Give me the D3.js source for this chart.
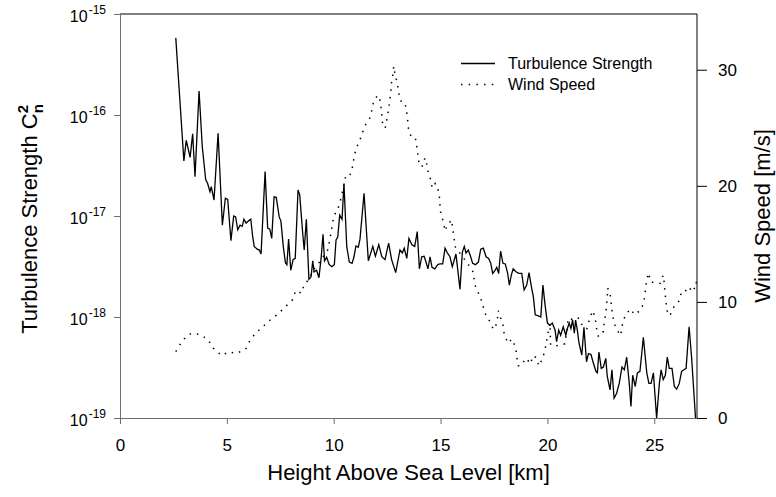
<!DOCTYPE html>
<html>
<head>
    <title>Turbulence Strength and Wind Speed</title>
    <script src="https://cdnjs.cloudflare.com/ajax/libs/d3/7.8.5/d3.min.js"></script>
    <style>
        body { margin: 0; background: #fff; }
        svg text { font-family: "Liberation Sans", Arial, sans-serif; fill: #000; }
    </style>
</head>

<body>
    <div id="chart"></div>

    <script>
        // turbulence profile, height [km] / Cn2 [m^-2/3]
        let heightT = [2.61, 2.99, 3.10, 3.28, 3.40, 3.51, 3.70, 3.85, 4.01, 4.10, 4.21, 4.27, 4.40, 4.59, 4.79, 4.93, 5.04,
            5.19, 5.32, 5.41, 5.51, 5.62, 5.72, 5.80, 5.90, 6.00, 6.12, 6.21, 6.28, 6.42, 6.52, 6.60, 6.79, 6.91, 7.01, 7.10,
            7.21, 7.31, 7.45, 7.53, 7.64, 7.74, 7.81, 7.89, 7.99, 8.10, 8.20, 8.33, 8.41, 8.55, 8.62, 8.72, 8.84, 8.94, 9.02,
            9.08, 9.20, 9.31, 9.41, 9.50, 9.57, 9.67, 9.79, 9.91, 10.03, 10.11, 10.19, 10.28, 10.39, 10.48, 10.61, 10.73,
            10.86, 10.95, 11.04, 11.15, 11.23, 11.42, 11.62, 11.83, 11.95, 12.11, 12.25, 12.40, 12.57, 12.71, 12.90, 13.10,
            13.21, 13.30, 13.42, 13.52, 13.66, 13.79, 13.91, 14.01, 14.12, 14.23, 14.32, 14.41, 14.51, 14.60, 14.73, 14.87,
            14.97, 15.10, 15.21, 15.32, 15.44, 15.55, 15.72, 15.91, 16.02, 16.11, 16.19, 16.30, 16.41, 16.50, 16.63, 16.77,
            16.88, 17.00, 17.13, 17.25, 17.35, 17.44, 17.55, 17.63, 17.72, 17.81, 17.92, 18.03, 18.14, 18.22, 18.31, 18.40,
            18.53, 18.66, 18.80, 18.91, 19.03, 19.14, 19.25, 19.34, 19.43, 19.55, 19.69, 19.79, 19.89, 20.00, 20.12, 20.23,
            20.36, 20.43, 20.53, 20.62, 20.74, 20.86, 20.93, 21.02, 21.10, 21.18, 21.26, 21.32, 21.40, 21.48, 21.61, 21.71,
            21.83, 21.92, 22.04, 22.15, 22.27, 22.34, 22.41, 22.52, 22.62, 22.73, 22.80, 22.93, 23.02, 23.12, 23.24, 23.36,
            23.49, 23.60, 23.71, 23.83, 23.91, 23.99, 24.11, 24.21, 24.33, 24.49, 24.65, 24.75, 24.85, 24.96, 25.11, 25.24,
            25.32, 25.42, 25.52, 25.61, 25.70, 25.83, 25.94, 26.05, 26.17, 26.28, 26.49, 26.63, 26.75, 26.93, 27.00]
        let cn2 = [5.8e-16, 3.5e-17, 5.6e-17, 3.8e-17, 6.5e-17, 2.45e-17, 1.73e-16, 4.85e-17, 2.3e-17, 2.1e-17, 1.74e-17, 1.95e-17, 1.44e-17, 6.6e-17, 8.1e-18, 1.5e-17, 1.46e-17,
            5.7e-18, 1.0e-17, 9.8e-18, 7.3e-18, 8.1e-18, 7.9e-18, 9.3e-18, 8.5e-18, 8.9e-18, 9.3e-18, 6.2e-18, 5.0e-18, 4.7e-18, 4.6e-18, 4.2e-18, 2.75e-17, 7.6e-18, 7.4e-18, 6.0e-18,
            1.55e-17, 1.53e-17, 9.8e-18, 8.9e-18, 5.0e-18, 3.45e-18, 3.3e-18, 5.9e-18, 2.9e-18, 3.7e-18, 3.8e-18, 1.81e-17, 1.62e-17, 6.7e-18, 4.6e-18, 9.3e-18, 2.36e-18, 2.5e-18, 3.6e-18,
            2.8e-18, 2.9e-18, 2.45e-18, 3.8e-18, 6.6e-18, 3.6e-18, 3.9e-18, 3.3e-18, 3.15e-18, 3.3e-18, 5.8e-18, 6.2e-18, 1.02e-17, 9.3e-18, 2.1e-17, 5.0e-18, 3.5e-18,
            3.4e-18, 3.95e-18, 5.05e-18, 4.9e-18, 5.9e-18, 1.68e-17, 3.6e-18, 5.0e-18, 4.0e-18, 5.2e-18, 3.95e-18, 3.7e-18, 5.4e-18, 3.7e-18, 2.75e-18, 4.6e-18,
            4.3e-18, 4.8e-18, 3.8e-18, 6.0e-18, 5.2e-18, 5.0e-18, 7.0e-18, 3.0e-18, 3.95e-18, 4.0e-18, 3.5e-18, 3.0e-18, 3.95e-18, 3.1e-18, 3.0e-18, 3.3e-18,
            3.35e-18, 3.35e-18, 4.8e-18, 4.3e-18, 3.95e-18, 3.15e-18, 4.2e-18, 1.88e-18, 4.4e-18, 5.0e-18, 4.3e-18, 4.6e-18, 3.95e-18, 3.4e-18, 3.3e-18, 3.5e-18,
            4.7e-18, 4.8e-18, 3.95e-18, 3.8e-18, 3.4e-18, 2.7e-18, 2.9e-18, 3.1e-18, 2.7e-18, 4.5e-18, 3.4e-18, 3.35e-18, 2.7e-18, 2.07e-18, 2.6e-18, 3.0e-18,
            2.8e-18, 2.7e-18, 2.7e-18, 1.85e-18, 2.07e-18, 2.75e-18, 2.0e-18, 1.6e-18, 1.05e-18, 1.03e-18, 1.0e-18, 2.07e-18, 1.32e-18, 8.7e-19, 8.3e-19, 8.7e-19,
            7.4e-19, 5.7e-19, 7.4e-19, 6.6e-19, 8.0e-19, 6.6e-19, 7.6e-19, 8.7e-19, 7.7e-19, 9.3e-19, 6.9e-19, 9.3e-19, 7.4e-19, 5.5e-19, 4.2e-19, 7.9e-19,
            3.6e-19, 4.35e-19, 4.25e-19, 3.5e-19, 2.9e-19, 2.8e-19, 4.5e-19, 3.1e-19, 3.2e-19, 3.9e-19, 2.6e-19, 1.9e-19, 3.0e-19, 1.57e-19, 1.76e-19, 2.2e-19,
            3.2e-19, 3.0e-19, 4.0e-19, 2.2e-19, 1.3e-19, 2.65e-19, 2.05e-19, 2.8e-19, 2.9e-19, 6.3e-19, 2.8e-19, 2.2e-19, 2.2e-19, 2.8e-19, 1.0e-19, 2.2e-19,
            3.0e-19, 2.4e-19, 2.65e-19, 4.0e-19, 3.1e-19, 3.1e-19, 2.05e-19, 1.93e-19, 2.2e-19, 2.9e-19, 3.1e-19, 8.0e-19, 3.9e-19, 1.0e-19, 0.8e-19]

        // wind profile, height [km] / speed [m/s]
        let heightW = [2.61, 2.85, 3.12, 3.35, 3.70, 4.10, 4.37, 4.76, 5.07, 5.46, 5.88, 6.08, 6.36, 6.65, 7.00, 7.35, 7.70,
            8.08, 8.22, 8.50, 8.61, 8.84, 9.05, 9.28, 9.72, 9.80, 9.87, 9.94, 10.00, 10.17, 10.30, 10.40, 10.57, 10.76, 10.89,
            10.95, 11.04, 11.20, 11.35, 11.50, 11.68, 11.79, 11.87, 12.06, 12.15, 12.21, 12.26, 12.29, 12.41, 12.49, 12.56,
            12.62, 12.67, 12.70, 12.76, 12.81, 12.87, 12.98, 13.04, 13.14, 13.26, 13.35, 13.42, 13.47, 13.51, 13.70, 13.84,
            13.90, 13.95, 14.01, 14.15, 14.27, 14.33, 14.41, 14.54, 14.61, 14.75, 14.85, 14.94, 14.97, 15.01, 15.13, 15.21,
            15.30, 15.52, 15.57, 15.63, 15.68, 16.19, 16.50, 16.57, 16.65, 16.85, 16.97, 17.09, 17.28, 17.47, 17.55, 17.66,
            17.70, 17.83, 17.94, 17.98, 18.17, 18.33, 18.52, 18.56, 18.64, 18.75, 19.00, 19.22, 19.30, 19.47, 19.60, 19.79,
            19.90, 19.97, 20.04, 20.12, 20.15, 20.36, 20.67, 20.82, 20.98, 21.14, 21.37, 21.53, 21.66, 21.85, 21.97, 22.12,
            22.24, 22.29, 22.39, 22.62, 22.66, 22.73, 22.77, 22.80, 22.82, 22.93, 22.98, 23.02, 23.10, 23.21, 23.43, 23.49,
            23.60, 23.86, 24.10, 24.41, 24.53, 24.58, 24.63, 24.72, 24.85, 25.08, 25.27, 25.42, 25.47, 25.50, 25.55, 25.58,
            25.73, 25.89, 26.17, 26.28, 26.45, 26.62, 26.75, 26.90, 26.98]
        let windSpeed = [5.72, 6.44, 7.07, 7.30, 7.20, 6.80, 6.00, 5.37, 5.69, 5.58, 5.92, 6.67, 7.35, 7.8, 8.4, 8.9, 9.5,
            10.2, 10.97, 10.75, 11.47, 11.96, 12.76, 13.28, 14.48, 15.2, 15.9, 16.7, 17.4, 17.9, 18.6, 19.4, 20.9, 20.9, 21.7,
            22.4, 23.2, 23.8, 24.6, 25.3, 25.8, 26.55, 27.3, 27.8, 27.5, 26.75, 25.97, 25.26, 24.97, 25.75, 26.5,
            27.3, 28.0, 28.8, 29.5, 30.3, 29.6, 28.8, 28.0, 27.3, 27.3, 27.0, 26.3, 25.5, 24.7, 24.0, 24.0,
            23.25, 22.5, 21.7, 21.7, 22.4, 22.1, 21.3, 20.5, 19.8, 20.2, 19.9, 19.2, 18.4, 17.6, 16.9, 16.1,
            16.55, 17.07, 16.3, 15.5, 14.77, 13.5, 12.7, 11.96, 11.2, 10.5, 9.74, 9.0, 8.4, 7.65, 7.7, 8.5,
            9.25, 8.5, 7.9, 7.15, 6.44, 6.8, 6.06, 5.28, 4.5, 4.48, 5.15, 4.66, 5.34, 5.23, 4.48, 5.2,
            6.0, 6.7, 7.44, 8.16, 6.3, 6.2, 6.3, 6.4, 8.6, 8.5, 8.7, 8.5, 7.8, 7.7, 8.5, 9.25,
            8.6, 7.8, 7.0, 7.45, 8.2, 9.0, 9.7, 10.4, 11.2, 10.75, 10.0, 9.2, 8.4, 7.7, 7.1, 7.9,
            8.6, 9.4, 8.9, 9.4, 10.2, 10.9, 11.7, 12.5, 11.7, 11.7, 11.6, 12.3, 11.6, 10.8, 10.1, 9.3,
            8.8, 9.5, 10.1, 10.9, 11.0, 10.8, 11.4, 11.1, 11.8]

        let xTicks = [0, 5, 10, 15, 20, 25]
        let cn2Ticks = [1e-19, 1e-18, 1e-17, 1e-16, 1e-15]
        let cn2Exponents = ["-19", "-18", "-17", "-16", "-15"]
        let windTicks = [0, 10, 20, 30]
        let seriesNames = ["Turbulence Strength", "Wind Speed"]

        const W = 776, H = 497
        const MARGIN = { top: 14, right: 79, bottom: 79, left: 120 }
        const plotW = W - MARGIN.left - MARGIN.right
        const plotH = H - MARGIN.top - MARGIN.bottom
        const FONT = '"Liberation Sans", Arial, sans-serif'
        const AXIS_GREY = "#6e6e6e"

        let svg = d3.select("#chart").append("svg")
            .attr("width", W)
            .attr("height", H)

        let x = d3.scaleLinear().domain([0, 27]).range([MARGIN.left, MARGIN.left + plotW])
        let yC = d3.scaleLog().domain([1e-19, 1e-15]).range([MARGIN.top + plotH, MARGIN.top])
        let yW = d3.scaleLinear().domain([0, 34.8]).range([MARGIN.top + plotH, MARGIN.top])

        svg.append("clipPath").attr("id", "plotClip")
            .append("rect")
            .attr("x", MARGIN.left).attr("y", MARGIN.top)
            .attr("width", plotW).attr("height", plotH)

        // data lines
        let turbLine = d3.line().x((d, i) => x(heightT[i])).y(d => yC(d))
        let windLine = d3.line().x((d, i) => x(heightW[i])).y(d => yW(d))

        let plot = svg.append("g").attr("clip-path", "url(#plotClip)")

        plot.append("path").datum(windSpeed)
            .attr("d", windLine)
            .attr("fill", "none")
            .attr("stroke", "#000")
            .attr("stroke-width", 1.5)
            .attr("stroke-dasharray", "1.5,6")

        plot.append("path").datum(cn2)
            .attr("d", turbLine)
            .attr("fill", "none")
            .attr("stroke", "#000")
            .attr("stroke-width", 1.3)

        // frame top
        svg.append("line")
            .attr("x1", MARGIN.left).attr("x2", MARGIN.left + plotW)
            .attr("y1", MARGIN.top).attr("y2", MARGIN.top)
            .attr("stroke", "#000").attr("stroke-width", 1)

        // bottom axis
        let gx = svg.append("g").attr("transform", `translate(0,${MARGIN.top + plotH})`)
            .call(d3.axisBottom(x).tickValues(xTicks).tickSize(6).tickSizeOuter(0))
        gx.selectAll("path, line").attr("stroke", AXIS_GREY)
        gx.selectAll("text").attr("y", 21).style("font-family", FONT).style("font-size", "17px").attr("fill", "#000")

        // left axis
        let gl = svg.append("g").attr("transform", `translate(${MARGIN.left},0)`)
            .call(d3.axisLeft(yC).tickValues(cn2Ticks).tickSize(6).tickSizeOuter(0).tickFormat(""))
        gl.selectAll("path, line").attr("stroke", AXIS_GREY)
        gl.selectAll("text").remove()

        cn2Ticks.forEach(function (v, i) {
            let t = svg.append("text")
                .attr("x", MARGIN.left - 14)
                .attr("y", yC(v) + 7.5)
                .attr("text-anchor", "end")
                .style("font-size", "16px")
            t.append("tspan").text("10")
            t.append("tspan").attr("dx", 1).attr("dy", -8).style("font-size", "12px").text(cn2Exponents[i])
        })

        // right axis
        let gr = svg.append("g").attr("transform", `translate(${MARGIN.left + plotW},0)`)
            .call(d3.axisRight(yW).tickValues(windTicks).tickSize(10).tickPadding(11).tickSizeOuter(0))
        gr.selectAll("path, line").attr("stroke", "#000")
        gr.selectAll("text").style("font-family", FONT).style("font-size", "17px").attr("fill", "#000")
        gr.select(".domain").attr("d", `M0,${MARGIN.top}V${MARGIN.top + plotH}`)

        // axis titles
        svg.append("text")
            .attr("x", MARGIN.left + plotW / 2)
            .attr("y", 480)
            .attr("text-anchor", "middle")
            .style("font-size", "22px")
            .text("Height Above Sea Level [km]")

        let lt = svg.append("text")
            .attr("transform", "rotate(-90)")
            .attr("x", -219)
            .attr("y", 37)
            .attr("text-anchor", "middle")
            .style("font-size", "22px")
        lt.append("tspan").text("Turbulence Strength C")
        lt.append("tspan").attr("dy", 6).style("font-size", "15px").style("font-weight", "bold").text("n")
        lt.append("tspan").attr("dx", -9).attr("dy", -15).style("font-size", "15px").style("font-weight", "bold").text("2")

        svg.append("text")
            .attr("transform", "rotate(-90)")
            .attr("x", -(MARGIN.top + plotH / 2))
            .attr("y", 770)
            .attr("text-anchor", "middle")
            .style("font-size", "22px")
            .text("Wind Speed [m/s]")

        // legend
        let legend = svg.append("g")
        seriesNames.forEach(function (name, i) {
            let ly = 63.5 + i * 21
            legend.append("line")
                .attr("x1", 461).attr("x2", 495)
                .attr("y1", ly).attr("y2", ly)
                .attr("stroke", "#000")
                .attr("stroke-width", i === 0 ? 1.3 : 1.5)
                .attr("stroke-dasharray", i === 0 ? null : "1.5,6.2")
            legend.append("text")
                .attr("x", 508)
                .attr("y", ly + 5.5)
                .style("font-size", "16px")
                .text(name)
        })
    </script>
</body>

</html>
